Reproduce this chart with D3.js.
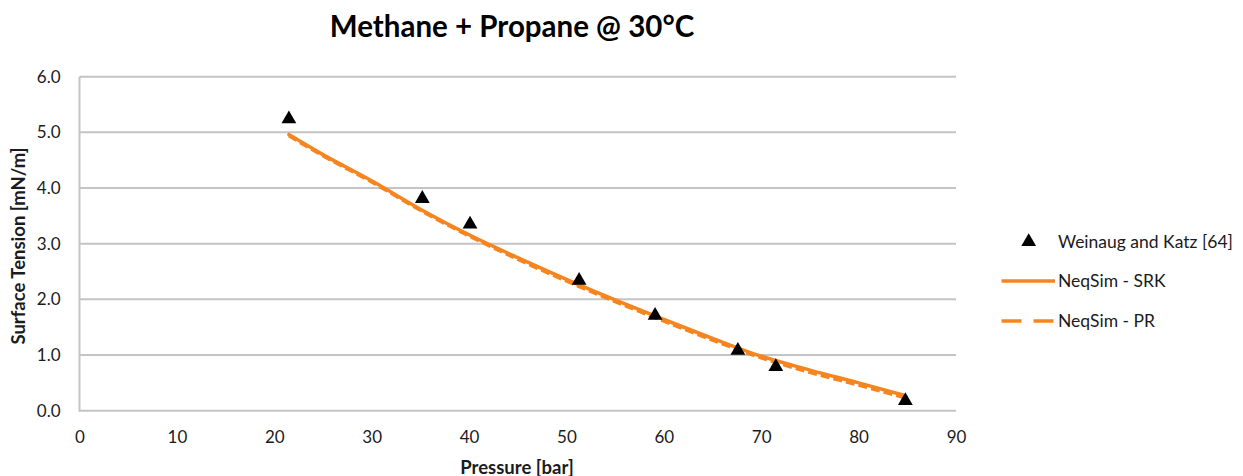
<!DOCTYPE html>
<html>
<head>
<meta charset="utf-8">
<script src="https://cdn.jsdelivr.net/npm/d3@7"></script>
<style>
  html, body { margin: 0; padding: 0; background: #fff; }
  svg { display: block; font-family: Lato, "Open Sans", sans-serif; }
</style>
</head>
<body>
<svg id="chart" width="1243" height="476"></svg>
<script>
// Measured surface tension (Weinaug and Katz) — pressure [bar], tension [mN/m]
const expPressure = [21.5, 35.2, 40.1, 51.3, 59.1, 67.6, 71.5, 84.8];
const expTension  = [5.24, 3.81, 3.35, 2.34, 1.71, 1.08, 0.79, 0.18];

// NeqSim model predictions
const modelPressure = [21.5, 25, 30, 35, 40, 45, 50, 55, 60, 65, 70, 75, 80, 84.6];
const srkTension    = [4.96, 4.60, 4.13, 3.62, 3.16, 2.75, 2.36, 1.99, 1.64, 1.30, 0.98, 0.73, 0.50, 0.28];
const prTension     = [4.94, 4.58, 4.11, 3.60, 3.14, 2.72, 2.33, 1.96, 1.61, 1.27, 0.95, 0.69, 0.46, 0.24];

const xTicks = [0, 10, 20, 30, 40, 50, 60, 70, 80, 90];
const yTicks = [0, 1, 2, 3, 4, 5, 6];

const seriesNames = ["Weinaug and Katz [64]", "NeqSim - SRK", "NeqSim - PR"];

const ORANGE = "#F6851F";
const GRID = "#C4C4C4";
const TEXT = "#1b1b22";

const svg = d3.select("#chart");

const x = d3.scaleLinear().domain([0, 90]).range([79.5, 956]);
const y = d3.scaleLinear().domain([0, 6]).range([410.7, 76.7]);

// horizontal gridlines
svg.append("g")
  .selectAll("line")
  .data(yTicks)
  .join("line")
  .attr("x1", x(0)).attr("x2", x(90))
  .attr("y1", d => y(d)).attr("y2", d => y(d))
  .attr("stroke", GRID).attr("stroke-width", 2);

// left axis line
svg.append("line")
  .attr("x1", x(0)).attr("x2", x(0))
  .attr("y1", y(6)).attr("y2", y(0) + 1)
  .attr("stroke", GRID).attr("stroke-width", 2);

// y axis tick labels
const yAxis = d3.axisLeft(y).tickValues(yTicks).tickFormat(d3.format(".1f")).tickSize(0).tickPadding(19);
const gy = svg.append("g").attr("transform", `translate(${x(0)},0)`).call(yAxis);
gy.select(".domain").remove();
gy.selectAll("text").attr("font-size", 17).attr("fill", TEXT).attr("font-family", "Lato, sans-serif");

// x axis tick labels
const xAxis = d3.axisBottom(x).tickValues(xTicks).tickFormat(d3.format("d")).tickSize(0).tickPadding(20);
const gx = svg.append("g").attr("transform", `translate(0,${y(0)})`).call(xAxis);
gx.select(".domain").remove();
gx.selectAll("text").attr("font-size", 17).attr("fill", TEXT).attr("font-family", "Lato, sans-serif");

// model curves
const line = d3.line().x(d => x(d[0])).y(d => y(d[1])).curve(d3.curveMonotoneX);

svg.append("path")
  .datum(d3.zip(modelPressure, prTension))
  .attr("d", line)
  .attr("fill", "none").attr("stroke", ORANGE)
  .attr("stroke-width", 3.5).attr("stroke-dasharray", "9,4");

svg.append("path")
  .datum(d3.zip(modelPressure, srkTension))
  .attr("d", line)
  .attr("fill", "none").attr("stroke", ORANGE)
  .attr("stroke-width", 3.5).attr("stroke-linecap", "round");

// experimental points
const tri = d3.symbol().type(d3.symbolTriangle).size(95);
svg.append("g")
  .selectAll("path")
  .data(d3.zip(expPressure, expTension))
  .join("path")
  .attr("d", tri)
  .attr("transform", d => `translate(${x(d[0])},${y(d[1])})`)
  .attr("fill", "#000");

// title
svg.append("text")
  .attr("x", 512).attr("y", 37)
  .attr("text-anchor", "middle")
  .attr("font-size", 29.5).attr("font-weight", 700).attr("fill", "#000")
  .text("Methane + Propane @ 30°C");

// axis titles
svg.append("text")
  .attr("transform", "translate(25,246) rotate(-90)")
  .attr("text-anchor", "middle")
  .attr("font-size", 18.5).attr("font-weight", 700).attr("fill", TEXT)
  .text("Surface Tension [mN/m]");

svg.append("text")
  .attr("x", 517).attr("y", 473.5)
  .attr("text-anchor", "middle")
  .attr("font-size", 18.5).attr("font-weight", 700).attr("fill", TEXT)
  .text("Pressure [bar]");

// legend
const legend = svg.append("g");
const legendRows = [241.7, 281, 321];

legend.append("path")
  .attr("d", tri)
  .attr("transform", `translate(1028.7,${legendRows[0]})`)
  .attr("fill", "#000");

legend.append("line")
  .attr("x1", 1001.5).attr("x2", 1055)
  .attr("y1", legendRows[1]).attr("y2", legendRows[1])
  .attr("stroke", ORANGE).attr("stroke-width", 3.5);

legend.append("line")
  .attr("x1", 1001.5).attr("x2", 1055)
  .attr("y1", legendRows[2]).attr("y2", legendRows[2])
  .attr("stroke", ORANGE).attr("stroke-width", 3.5)
  .attr("stroke-dasharray", "20,12");

legend.selectAll("text")
  .data(seriesNames)
  .join("text")
  .attr("x", 1058)
  .attr("y", (d, i) => legendRows[i])
  .attr("dy", "0.35em")
  .attr("font-size", 17.5).attr("fill", TEXT)
  .text(d => d);
</script>
</body>
</html>
